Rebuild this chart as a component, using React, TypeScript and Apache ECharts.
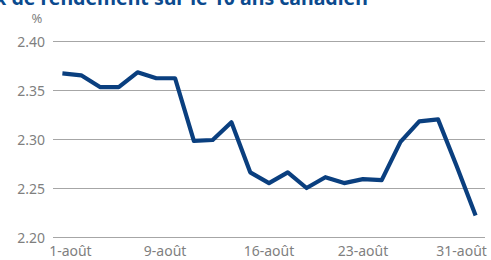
import React, { useEffect, useRef } from "react";
import * as echarts from "echarts";

const categories = [
  "1-août", "2-août", "3-août", "6-août", "7-août", "8-août", "9-août", "10-août",
  "13-août", "14-août", "15-août", "16-août", "17-août", "20-août", "21-août", "22-août",
  "23-août", "24-août", "27-août", "28-août", "29-août", "30-août", "31-août",
];
const yieldValues = [
  2.367, 2.365, 2.353, 2.353, 2.368, 2.362, 2.362, 2.298,
  2.299, 2.317, 2.266, 2.255, 2.266, 2.250, 2.261, 2.255,
  2.259, 2.258, 2.297, 2.318, 2.320, 2.272, 2.222,
];
const shownLabels = ["1-août", "9-août", "16-août", "23-août", "31-août"];
const titleText = "Taux de rendement sur le 10 ans canadien";
const unitText = "%";

export default function App() {
  const ref = useRef<HTMLDivElement>(null);
  useEffect(() => {
    if (!ref.current) return;
    const chart = echarts.init(ref.current, null, { renderer: "svg" });
    const grey = "#7f7f7f";
    const font = "Noto Sans";
    chart.setOption({
      animation: false,
      grid: { left: 53, right: 6, top: 41, bottom: 23, containLabel: false },
      graphic: [
        {
          type: "text",
          x: -39,
          y: 7,
          style: {
            text: titleText,
            font: "bold 19.5px 'Noto Sans'",
            fill: "#0b4a8e",
            verticalAlign: "bottom",
            align: "left",
            lineHeight: 20,
          },
        },
        {
          type: "text",
          x: 37,
          y: 18,
          style: {
            text: unitText,
            font: "13px 'Noto Sans'",
            fill: grey,
            verticalAlign: "middle",
            align: "center",
            lineHeight: 12,
          },
        },
      ],
      xAxis: {
        type: "category",
        data: categories,
        boundaryGap: true,
        axisLine: { show: false },
        axisTick: { show: false },
        splitLine: { show: false },
        axisLabel: {
          interval: (idx: number, value: string) => shownLabels.includes(value),
          color: grey,
          fontFamily: font,
          fontSize: 14,
          margin: 6,
          formatter: (value: string) => {
            if (value === "1-août") return "{first|" + value + "}";
            if (value === "9-août") return "{nine|" + value + "}";
            if (value === "31-août") return "{last|" + value + "}";
            return value;
          },
          rich: {
            first: { color: grey, fontFamily: font, fontSize: 14, padding: [0, 0, 0, 16] },
            nine: { color: grey, fontFamily: font, fontSize: 14, padding: [0, 20, 0, 0] },
            last: { color: grey, fontFamily: font, fontSize: 14, padding: [0, 28, 0, 0] },
          },
        },
      },
      yAxis: {
        type: "value",
        min: 2.2,
        max: 2.4,
        interval: 0.05,
        axisLine: { show: false },
        axisTick: { show: false },
        axisLabel: {
          color: grey,
          fontFamily: font,
          fontSize: 14,
          margin: 8,
          formatter: (v: number) => v.toFixed(2),
        },
        splitLine: { lineStyle: { color: "#a6a6a6", width: 1 } },
      },
      series: [
        {
          type: "line",
          data: yieldValues,
          symbol: "none",
          lineStyle: { color: "#0a3f7f", width: 4.2, join: "round" },
        },
      ],
    });
    return () => chart.dispose();
  }, []);
  return (
    <div
      ref={ref}
      style={{ position: "absolute", left: 0, top: 0, width: 491, height: 260 }}
    />
  );
}
